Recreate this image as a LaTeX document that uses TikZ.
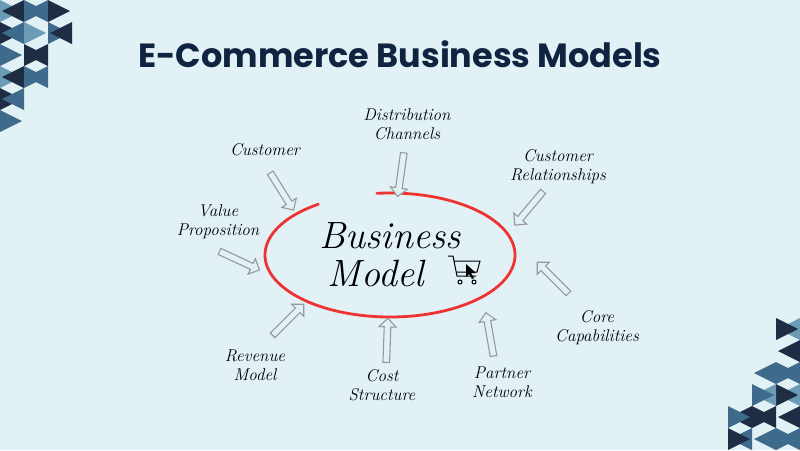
\documentclass[tikz,border=0pt]{standalone}
\usepackage{fontspec}
\setmainfont{Latin Modern Roman}
\newfontfamily\titlefont{Poppins}
\usetikzlibrary{shapes.arrows}
\definecolor{bg}{HTML}{E1F1F5}
\definecolor{navy}{HTML}{0F2440}
\definecolor{tlight}{HTML}{6C9BB6}
\definecolor{tmid}{HTML}{3E6B8C}
\definecolor{tdark}{HTML}{1F2D44}
\definecolor{cred}{HTML}{EE3333}
\tikzset{
 lbl/.style={font=\itshape\fontsize{17}{19}\selectfont, align=center, text=black},
 harrow/.style={single arrow, draw=gray!80, fill=bg, line width=1.1pt, minimum height=44pt, minimum width=17pt, single arrow head extend=4pt, inner sep=2pt},
 big/.style={font=\itshape\fontsize{38}{40}\selectfont}
}
\begin{document}
\begin{tikzpicture}[x=1pt,y=-1pt]
\fill[bg] (0,0) rectangle (800,450);
\useasboundingbox (0,0) rectangle (800,450);
% corner triangles
\foreach \i in {0,...,3}{\foreach \j in {0,...,5}{
 \pgfmathtruncatemacro{\ok}{(\i*2+\j<6)?1:0}
 \ifnum\ok=1
 \pgfmathtruncatemacro{\c}{mod(\i*7+\j*5,3)}
 \ifcase\c \def\col{tlight}\or\def\col{tmid}\or\def\col{tdark}\fi
 \fill[\col] (\i*24,\j*22) -- (\i*24+22,\j*22+11) -- (\i*24,\j*22+22) -- cycle;
 \pgfmathtruncatemacro{\e}{mod(\i*5+\j*2+2,3)}
 \ifcase\e \def\col{tlight}\or\def\col{tmid}\or\def\col{tdark}\fi
 \ifnum\e>0 \fill[\col] (\i*24+24,\j*22) -- (\i*24+2,\j*22+11) -- (\i*24+24,\j*22+22) -- cycle;\fi
 \pgfmathtruncatemacro{\d}{mod(\i*3+\j*7+1,3)}
 \ifcase\d \def\col{tlight}\or\def\col{tmid}\or\def\col{tdark}\fi
 \fill[\col] (800-\i*24,450-\j*22) -- (800-\i*24-22,450-\j*22-11) -- (800-\i*24,450-\j*22-22) -- cycle;
 \pgfmathtruncatemacro{\f}{mod(\i*2+\j*5+1,3)}
 \ifcase\f \def\col{tlight}\or\def\col{tmid}\or\def\col{tdark}\fi
 \ifnum\f>0 \fill[\col] (800-\i*24-24,450-\j*22) -- (800-\i*24-2,450-\j*22-11) -- (800-\i*24-24,450-\j*22-22) -- cycle;\fi
 \fi}}
\node[font=\titlefont\bfseries\fontsize{33.5}{36}\selectfont, text=navy] (title) at (400,54) {E-Commerce Business Models};
% ellipse
\draw[cred, line width=2.8pt, line cap=round] (390,255) ++(125:125 and -62) arc[start angle=125, end angle=456, x radius=125, y radius=-62];
\node[big] (b1) at (390,236) {Business};
\node[big] (b2) at (376,273) {Model};
% cart
\begin{scope}[shift={(448,256)}, line width=1pt]
\draw (0,0) -- (5,0) -- (9,20) -- (28,20);
\draw (6,5) -- (32,5) -- (29,16) -- (8,16);
\draw (12,26) circle (2); \draw (26,26) circle (2);
\fill (18,8) -- (28,17) -- (23,17) -- (26,22) -- (24,23) -- (21,18) -- (18,21) -- cycle;
\end{scope}
\node[lbl] (c) at (265,150) {Customer};
\node[lbl] (dc) at (407,124) {Distribution\\Channels};
\node[lbl] (cr) at (558,167) {Customer\\Relationships};
\node[lbl] (vp) at (218,222) {Value\\Proposition};
\node[lbl] (rm) at (255,365) {Revenue\\Model};
\node[lbl] (cs) at (382,385) {Cost\\Structure};
\node[lbl] (pn) at (502,382) {Partner\\Network};
\node[lbl] (cc) at (597,328) {Core\\Capabilities};
\node[harrow, rotate=-58] (a1) at (281,190) {};
\node[harrow, rotate=-98] (a2) at (401,173) {};
\node[harrow, rotate=-130] (a3) at (530,207) {};
\node[harrow, rotate=-25] (a4) at (238,260) {};
\node[harrow, rotate=45] (a5) at (287,321) {};
\node[harrow, rotate=88] (a6) at (387,342) {};
\node[harrow, rotate=100] (a7) at (490,336) {};
\node[harrow, rotate=135] (a8) at (554,279) {};
\end{tikzpicture}
\end{document}
